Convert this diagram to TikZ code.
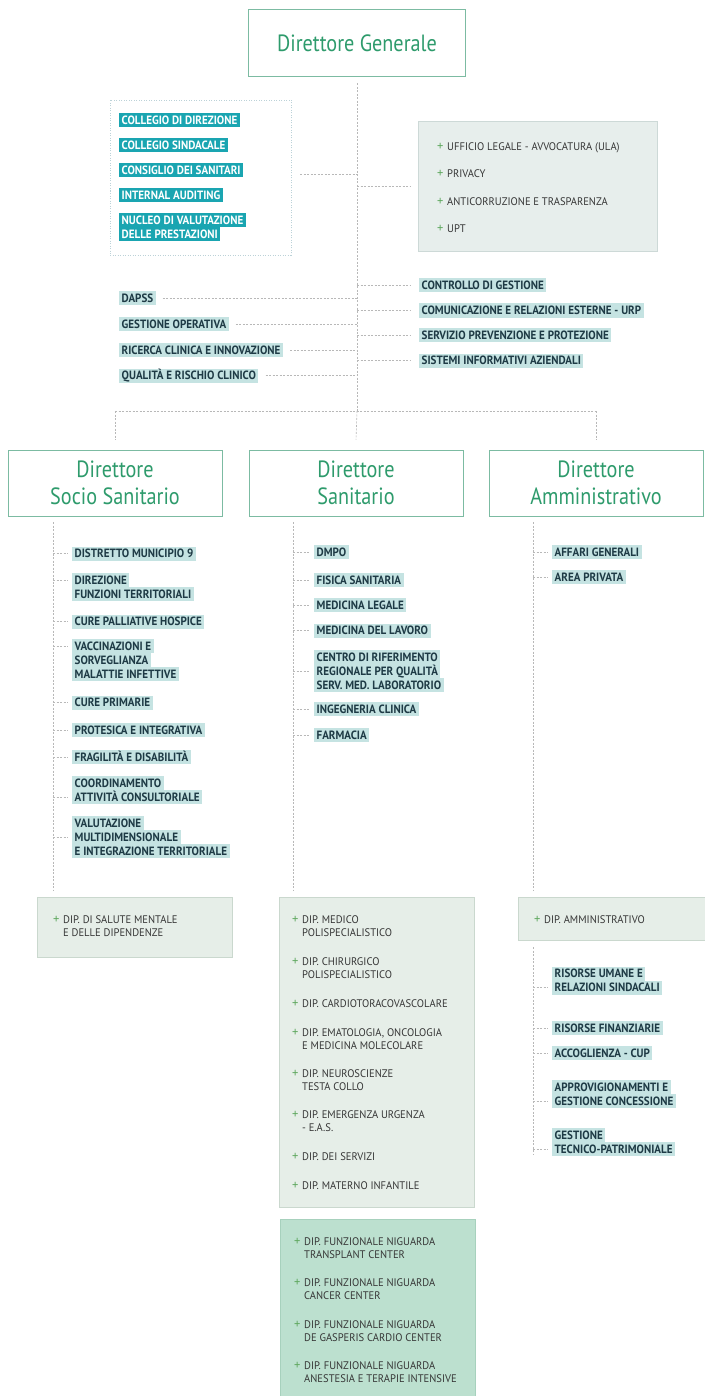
\documentclass[tikz,border=0pt]{standalone}
\usepackage{fontspec}
\setmainfont{PT Sans}
\newfontfamily\tfont{PT Sans}[FakeStretch=0.86]
\newfontfamily\lfont{PT Sans}[FakeStretch=0.92]
\newfontfamily\ifont{PT Sans}[FakeStretch=0.96]
\usetikzlibrary{calc}
\definecolor{tgreen}{HTML}{2E9B6C}
\definecolor{tborder}{HTML}{7CBBA2}
\definecolor{tealfill}{HTML}{1AA5B1}
\definecolor{hlfill}{HTML}{C5E3E2}
\definecolor{hltext}{HTML}{1E3A45}
\definecolor{dashgray}{HTML}{B8B8B8}
\definecolor{dotbox}{HTML}{BCD2D8}
\definecolor{panelfill}{HTML}{E6EEE8}
\definecolor{panelborder}{HTML}{CAD8CE}
\definecolor{bluepanel}{HTML}{E7EEEC}
\definecolor{bluepanelb}{HTML}{CDD9D7}
\definecolor{mintfill}{HTML}{BCE0CF}
\definecolor{mintborder}{HTML}{A7D1BD}
\definecolor{plusc}{HTML}{5FA85F}
\definecolor{itext}{HTML}{363636}
\newcommand\pl{\makebox[10pt][l]{\textcolor{plusc}{\fontsize{13}{13}\selectfont +}}}
\tikzset{
  dl/.style={draw=dashgray, line width=0.6pt, dash pattern=on 2pt off 1.5pt},
  titlebox/.style={draw=tborder, line width=1pt, text=tgreen, font=\tfont\fontsize{23.5}{27}\selectfont, align=center, inner sep=0pt},
  tl/.style={fill=tealfill, text=white, font=\lfont\bfseries\fontsize{12}{13}\selectfont, anchor=west, inner xsep=2.5pt, inner ysep=0pt, text height=8.4pt, text depth=0pt, minimum height=14pt},
  hl/.style={tl, fill=hlfill, text=hltext},
  pitem/.style={anchor=west, inner sep=0pt, text=itext, font=\ifont\fontsize{11}{12}\selectfont, text height=7.7pt, text depth=0pt},
  panel/.style={fill=panelfill, draw=panelborder, line width=0.8pt, inner sep=0pt},
}
\begin{document}
\begin{tikzpicture}[x=1pt, y=-1pt]
\useasboundingbox[fill=white] (0,0) rectangle (704,1396);

% ---------- top ----------
\node[titlebox, minimum width=217pt, minimum height=67pt] (dg) at (357,43.5) {Direttore Generale};
\coordinate (hub) at (357,411);

\node[draw=dotbox, line width=0.8pt, dash pattern=on 1pt off 1.5pt, minimum width=181pt, minimum height=155pt, inner sep=0pt] (cbox) at (200.5,177.5) {};
\node[tl] (t1) at (119,120) {COLLEGIO DI DIREZIONE};
\node[tl] (t2) at (119,145) {COLLEGIO SINDACALE};
\node[tl] (t3) at (119,170) {CONSIGLIO DEI SANITARI};
\node[tl] (t4) at (119,195) {INTERNAL AUDITING};
\node[tl] (t5a) at (119,220) {NUCLEO DI VALUTAZIONE};
\node[tl] (t5b) at (119,234) {DELLE PRESTAZIONI};

\node[fill=bluepanel, draw=bluepanelb, line width=0.8pt, minimum width=239pt, minimum height=130pt, inner sep=0pt] (rbox) at (537.5,186.5) {};
\node[pitem] (r1) at (437,147) {\pl UFFICIO LEGALE - AVVOCATURA (ULA)};
\node[pitem] (r2) at (437,174) {\pl PRIVACY};
\node[pitem] (r3) at (437,202) {\pl ANTICORRUZIONE E TRASPARENZA};
\node[pitem] (r4) at (437,229) {\pl UPT};

\draw[dl] ([yshift=-6pt]dg.south) -- (hub);
\draw[dl] (cbox.east) ++(9,-3.5) -- (hub |- 0,174);
\draw[dl] (hub |- rbox.west) -- ([xshift=-8pt]rbox.west);

% staff left
\node[hl] (l1) at (119,298.5) {DAPSS};
\node[hl] (l2) at (119,324) {GESTIONE OPERATIVA};
\node[hl] (l3) at (119,350) {RICERCA CLINICA E INNOVAZIONE};
\node[hl] (l4) at (119,375.5) {QUALIT\`A E RISCHIO CLINICO};
\foreach \n in {l1,l2,l3,l4} \draw[dl] ([xshift=7pt]\n.east) -- (hub |- \n.east);
% staff right
\node[hl] (g1) at (419,285) {CONTROLLO DI GESTIONE};
\node[hl] (g2) at (419,310.5) {COMUNICAZIONE E RELAZIONI ESTERNE - URP};
\node[hl] (g3) at (419,335) {SERVIZIO PREVENZIONE E PROTEZIONE};
\node[hl] (g4) at (419,360.5) {SISTEMI INFORMATIVI AZIENDALI};
\foreach \n in {g1,g2,g3,g4} \draw[dl] (hub |- \n.west) -- ([xshift=-8pt]\n.west);

% ---------- second row ----------
\node[titlebox, minimum width=214pt, minimum height=66pt] (dss) at (115,483) {Direttore\\Socio Sanitario};
\node[titlebox, minimum width=214pt, minimum height=66pt] (dsan) at (356,483) {Direttore\\Sanitario};
\node[titlebox, minimum width=214pt, minimum height=66pt] (dam) at (596,483) {Direttore\\Amministrativo};
\draw[dl] (dss.north |- hub) -- (dam.north |- hub);
\draw[dl] (dss.north |- hub) -- ([yshift=10pt]dss.north);
\draw[dl] (hub) -- ([yshift=10pt]dsan.north);
\draw[dl] (dam.north |- hub) -- ([yshift=10pt]dam.north);

% ---------- bottom panels ----------
\node[panel, minimum width=195pt, minimum height=60pt] (bL) at (134.5,927) {};
\node[panel, minimum width=195pt, minimum height=310pt] (bM) at (376.5,1052) {};
\node[fill=mintfill, draw=mintborder, line width=0.8pt, inner sep=0pt, minimum width=195pt, minimum height=178pt] (bN) at (377.5,1308) {};
\node[panel, minimum width=187pt, minimum height=43pt] (bR) at (611.5,918.5) {};

% ---------- column lines ----------
\coordinate (cL) at (53,522);
\coordinate (cM) at (293,522);
\coordinate (cR) at (533,522);
\draw[dl] (cL) -- ([yshift=7pt]bL.north -| cL);
\draw[dl] (cM) -- ([yshift=7pt]bM.north -| cM);
\draw[dl] (cR) -- ([yshift=7pt]bR.north -| cR);

% left column
\node[hl] (s1) at (72,553.5) {DISTRETTO MUNICIPIO 9};
\node[hl] (s2a) at (72,580) {DIREZIONE};
\node[hl] (s2b) at (72,594) {FUNZIONI TERRITORIALI};
\node[hl] (s3) at (72,621.5) {CURE PALLIATIVE HOSPICE};
\node[hl] (s4a) at (72,646) {VACCINAZIONI E};
\node[hl] (s4b) at (72,660) {SORVEGLIANZA};
\node[hl] (s4c) at (72,674) {MALATTIE INFETTIVE};
\node[hl] (s5) at (72,702.5) {CURE PRIMARIE};
\node[hl] (s6) at (72,730) {PROTESICA E INTEGRATIVA};
\node[hl] (s7) at (72,757) {FRAGILIT\`A E DISABILIT\`A};
\node[hl] (s8a) at (72,783) {COORDINAMENTO};
\node[hl] (s8b) at (72,797) {ATTIVIT\`A CONSULTORIALE};
\node[hl] (s9a) at (72,823) {VALUTAZIONE};
\node[hl] (s9b) at (72,837) {MULTIDIMENSIONALE};
\node[hl] (s9c) at (72,851) {E INTEGRAZIONE TERRITORIALE};
\foreach \n in {s1,s2a,s3,s4a,s5,s6,s7,s8b,s9b} \draw[dl] (cL |- \n.west) -- ([xshift=-4pt]\n.west);

% middle column
\node[hl] (m1) at (314,552) {DMPO};
\node[hl] (m2) at (314,580) {FISICA SANITARIA};
\node[hl] (m3) at (314,605) {MEDICINA LEGALE};
\node[hl] (m4) at (314,630.5) {MEDICINA DEL LAVORO};
\node[hl] (m5a) at (314,657) {CENTRO DI RIFERIMENTO};
\node[hl] (m5b) at (314,671) {REGIONALE PER QUALIT\`A};
\node[hl] (m5c) at (314,685) {SERV. MED. LABORATORIO};
\node[hl] (m6) at (314,709) {INGEGNERIA CLINICA};
\node[hl] (m7) at (314,735) {FARMACIA};
\foreach \n in {m1,m2,m3,m4,m5b,m6,m7} \draw[dl] (cM |- \n.west) -- ([xshift=-4pt]\n.west);

% right column
\node[hl] (a1) at (552,552) {AFFARI GENERALI};
\node[hl] (a2) at (552,577) {AREA PRIVATA};
\node[hl] (a3a) at (552,973.5) {RISORSE UMANE E};
\node[hl] (a3b) at (552,987.5) {RELAZIONI SINDACALI};
\node[hl] (a4) at (552,1028) {RISORSE FINANZIARIE};
\node[hl] (a5) at (552,1053) {ACCOGLIENZA - CUP};
\node[hl] (a6a) at (552,1087) {APPROVIGIONAMENTI E};
\node[hl] (a6b) at (552,1101) {GESTIONE CONCESSIONE};
\node[hl] (a7a) at (552,1135) {GESTIONE};
\node[hl] (a7b) at (552,1149) {TECNICO-PATRIMONIALE};
\draw[dl] ([yshift=-7pt]bR.south -| cR) -- ($(cR |- a7b.west)+(0,5)$);
\foreach \n in {a1,a2,a3b,a4,a5,a6b,a7b} \draw[dl] (cR |- \n.west) -- ([xshift=-4pt]\n.west);

% panel items
\node[pitem] (p1a) at (53,920) {\pl DIP. DI SALUTE MENTALE};
\node[pitem] (p1b) at (63,933) {E DELLE DIPENDENZE};

\node[pitem] (q1a) at (292,920) {\pl DIP. MEDICO};
\node[pitem] (q1b) at (302,933) {POLISPECIALISTICO};
\node[pitem] (q2a) at (292,962) {\pl DIP. CHIRURGICO};
\node[pitem] (q2b) at (302,975) {POLISPECIALISTICO};
\node[pitem] (q3) at (292,1004) {\pl DIP. CARDIOTORACOVASCOLARE};
\node[pitem] (q4a) at (292,1033) {\pl DIP. EMATOLOGIA, ONCOLOGIA};
\node[pitem] (q4b) at (302,1046) {E MEDICINA MOLECOLARE};
\node[pitem] (q5a) at (292,1074) {\pl DIP. NEUROSCIENZE};
\node[pitem] (q5b) at (302,1087) {TESTA COLLO};
\node[pitem] (q6a) at (292,1115) {\pl DIP. EMERGENZA URGENZA};
\node[pitem] (q6b) at (302,1128) {- E.A.S.};
\node[pitem] (q7) at (292,1157) {\pl DIP. DEI SERVIZI};
\node[pitem] (q8) at (292,1186) {\pl DIP. MATERNO INFANTILE};

\node[pitem] (n1a) at (294,1242) {\pl DIP. FUNZIONALE NIGUARDA};
\node[pitem] (n1b) at (304,1255) {TRANSPLANT CENTER};
\node[pitem] (n2a) at (294,1283) {\pl DIP. FUNZIONALE NIGUARDA};
\node[pitem] (n2b) at (304,1296) {CANCER CENTER};
\node[pitem] (n3a) at (294,1325) {\pl DIP. FUNZIONALE NIGUARDA};
\node[pitem] (n3b) at (304,1338) {DE GASPERIS CARDIO CENTER};
\node[pitem] (n4a) at (294,1366) {\pl DIP. FUNZIONALE NIGUARDA};
\node[pitem] (n4b) at (304,1379) {ANESTESIA E TERAPIE INTENSIVE};

\node[pitem] (ra) at (534,920) {\pl DIP. AMMINISTRATIVO};
\end{tikzpicture}
\end{document}
